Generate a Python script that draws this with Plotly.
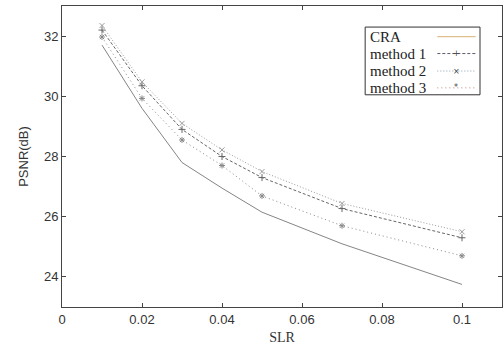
import plotly.graph_objects as go

slr = [0.01, 0.02, 0.03, 0.04, 0.05, 0.07, 0.1]
cra = [31.7, 29.6, 27.8, 26.95, 26.15, 25.1, 23.75]
method1 = [32.2, 30.35, 28.9, 28.0, 27.3, 26.27, 25.3]
method2 = [32.35, 30.48, 29.1, 28.22, 27.5, 26.44, 25.5]
method3 = [31.97, 29.93, 28.55, 27.7, 26.69, 25.7, 24.7]
names = ["CRA", "method 1", "method 2", "method 3"]
xticks = [0, 0.02, 0.04, 0.06, 0.08, 0.1]
yticks = [24, 26, 28, 30, 32]

styles = [
    dict(color="#858585", dash="solid", symbol=None, sym_txt="", lcol="#d8b070"),
    dict(color="#666666", dash="3px,2px", symbol="cross-thin", sym_txt="+", lcol="#5a5a6a"),
    dict(color="#9a9a9a", dash="1px,2px", symbol="x-thin", sym_txt="×", lcol="#8aa0b0"),
    dict(color="#888888", dash="1px,3px", symbol="asterisk", sym_txt="*", lcol="#c08080"),
]

fig = go.Figure()
for name, ys, st in zip(names, [cra, method1, method2, method3], styles):
    mode = "lines" if st["symbol"] is None else "lines+markers"
    fig.add_trace(go.Scatter(
        x=slr, y=ys, mode=mode, name=name, showlegend=False,
        line=dict(color=st["color"], width=1, dash=st["dash"]),
        marker=dict(symbol=st["symbol"] or "circle", size=5,
                    line=dict(color=st["color"], width=1), color=st["color"]),
    ))

# custom legend (text left, sample right), gnuplot-like
shapes = [dict(type="rect", xref="paper", yref="paper", x0=0.689, x1=0.95,
               y0=0.705, y1=0.93, line=dict(color="#333", width=1))]
annotations = []
rows = [0.898, 0.842, 0.784, 0.728]
for name, st, ry in zip(names, styles, rows):
    annotations.append(dict(xref="paper", yref="paper", x=0.695, y=ry, text=name,
                            showarrow=False, xanchor="left", yanchor="middle",
                            font=dict(family="Liberation Serif", size=15, color="#222")))
    shapes.append(dict(type="line", xref="paper", yref="paper", x0=0.853, x1=0.94,
                       y0=ry, y1=ry, line=dict(color=st["lcol"], width=1, dash=st["dash"])))
    if st["sym_txt"]:
        annotations.append(dict(xref="paper", yref="paper", x=0.8965, y=ry, text=st["sym_txt"],
                                showarrow=False, xanchor="center", yanchor="middle",
                                font=dict(family="DejaVu Sans", size=8, color="#444")))

fig.update_layout(
    width=504, height=354,
    margin=dict(l=62, r=2, t=6, b=47, pad=0),
    paper_bgcolor="white", plot_bgcolor="white",
    shapes=shapes, annotations=annotations,
    font=dict(family="Liberation Sans", size=12, color="#333"),
)
fig.update_xaxes(range=[0, 0.11], tickvals=xticks, ticktext=[str(v) for v in xticks],
                 ticks="inside", ticklen=4, showgrid=False, zeroline=False, automargin=False,
                 showline=True, linecolor="#444", mirror="ticks", tickcolor="#444",
                 tickfont=dict(family="Liberation Sans Narrow, Liberation Sans", size=13),
                 title=dict(text="SLR", font=dict(family="Liberation Serif", size=14), standoff=6))
fig.update_yaxes(range=[23, 33], tickvals=yticks,
                 ticks="inside", ticklen=4, showgrid=False, zeroline=False, automargin=False,
                 showline=True, linecolor="#444", mirror="ticks", tickcolor="#444",
                 tickfont=dict(family="Liberation Sans Narrow, Liberation Sans", size=13),
                 title=dict(text="PSNR(dB)", font=dict(family="Liberation Sans Narrow, Liberation Sans", size=13), standoff=12))

fig.write_html("out.html", config={"displayModeBar": False},
               post_script="document.body.style.margin='0';document.body.style.overflow='hidden';")
